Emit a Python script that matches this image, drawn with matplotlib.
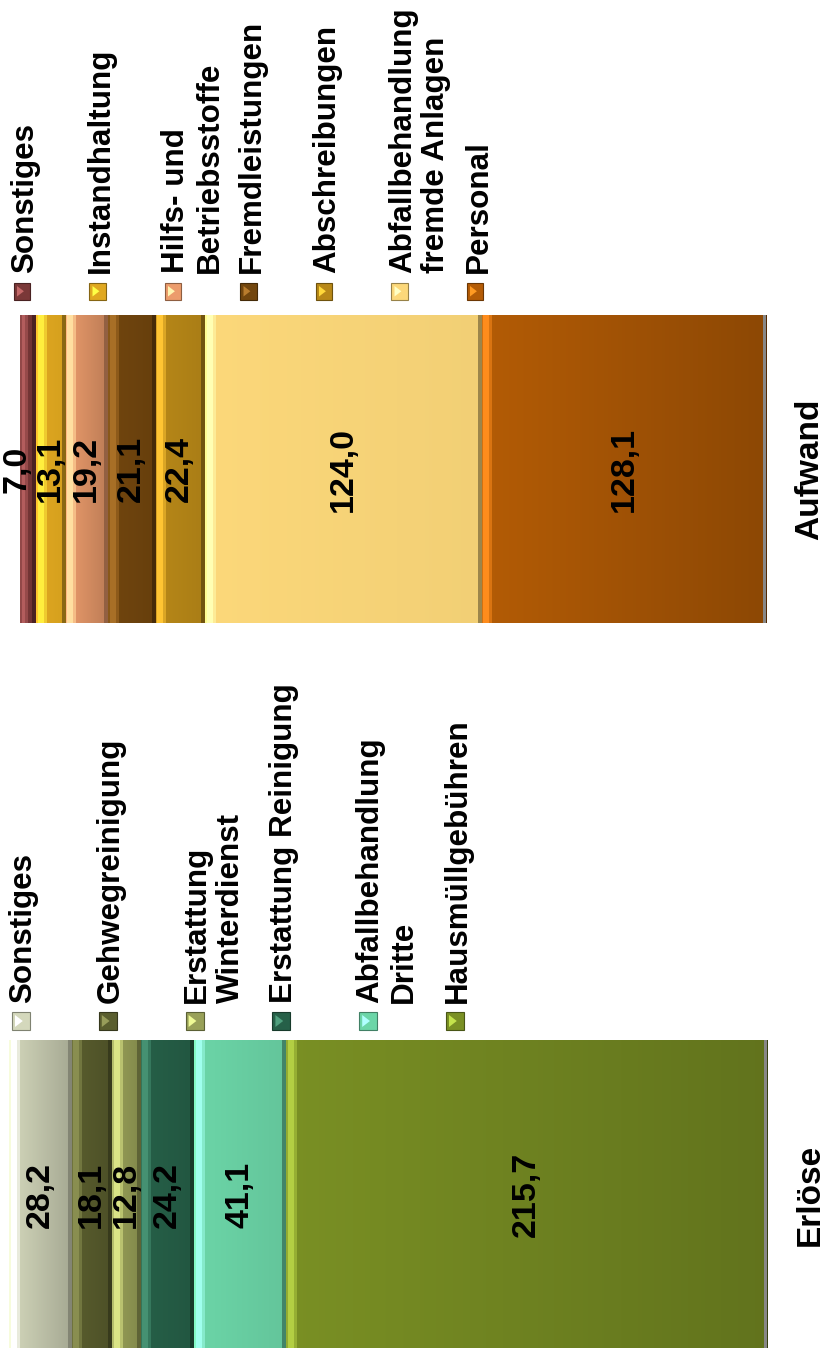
import numpy as np
import matplotlib
matplotlib.use("Agg")
import matplotlib.pyplot as plt
from matplotlib.colors import to_rgb
from matplotlib.patches import Rectangle, Polygon
from matplotlib import transforms

plt.rcParams['font.family'] = ['Liberation Sans', 'DejaVu Sans']

categories = ['Erlöse', 'Aufwand']

# stacking order: from the base of the bar (right) outwards (left)
erloese_labels = ['Hausmüllgebühren', 'Abfallbehandlung\nDritte', 'Erstattung Reinigung',
                  'Erstattung\nWinterdienst', 'Gehwegreinigung', 'Sonstiges']
erloese_values = [215.7, 41.1, 24.2, 12.8, 18.1, 28.2]
erloese_colors = ['#7a9024', '#6cd6a8', '#266048', '#98a058', '#5a5e2e', '#d4d8bc']
erloese_fade = [0.2, 0.08, 0.1, 0.15, 0.15, 0.22]

aufwand_labels = ['Personal', 'Abfallbehandlung\nfremde Anlagen', 'Abschreibungen',
                  'Fremdleistungen', 'Hilfs- und\nBetriebsstoffe', 'Instandhaltung', 'Sonstiges']
aufwand_values = [128.1, 124.0, 22.4, 21.1, 19.2, 13.1, 7.0]
aufwand_colors = ['#b45c06', '#fcd87a', '#b88818', '#72460e', '#ec9c6c', '#e0a820', '#7a3838']
aufwand_fade = [0.22, 0.04, 0.08, 0.1, 0.2, 0.05, 0.1]

W, H = 828, 1349
PX_PER_UNIT = 2.23     # pixels per value unit
BASE_PX = 767          # pixel column of value 0
BAR_CENTER_PX = [1194.5, 469]
BAR_H = 0.424

fig = plt.figure(figsize=(W / 100, H / 100), dpi=100)
ax = fig.add_axes([0, 0, 1, 1])
ax.axis('off')


def shade(color, n, fade, is_base):
    # column colours across one segment, left (outer end) to right (base side)
    base = np.array(to_rgb(color))
    hi = np.clip(base * 1.3 + 0.08, 0, 1)
    hw = min(8.0, 2 + n * 0.2)
    cols = np.empty((n, 3))
    for i in range(n):
        di = i + 0.5
        c = base * (1.0 - fade * di / n)
        if di < 2:
            c = np.clip(base * 1.12 + 0.04, 0, 1)
        elif di < hw:
            c = hi
        elif di < hw + 3:
            c = (hi + base) / 2
        if di > n - 4:
            c = base * 0.62
        if is_base and di > n - 4:
            c = np.array([0.53, 0.53, 0.53])
        if is_base and di > n - 1:
            c = base * 0.45
        cols[i] = np.clip(c, 0, 1)
    return cols


def draw_bar(ypos, values, colors, fades):
    cum = 0.0
    for k, (v, col, fd) in enumerate(zip(values, colors, fades)):
        ax.barh(ypos, v, left=cum, height=BAR_H, color=col, linewidth=0)
        n = max(int(round(v * PX_PER_UNIT)), 2)
        img = shade(col, n, fd, k == 0)[np.newaxis, :, :]
        ax.imshow(img, extent=(cum + v, cum, ypos - BAR_H / 2, ypos + BAR_H / 2),
                  aspect='auto', interpolation='nearest', zorder=2)
        txt = f"{v:.1f}".replace('.', ',')
        tr = ax.transData
        if v < 10:
            tr = transforms.offset_copy(ax.transData, fig=fig, x=-11, y=0, units='dots')
        ax.text(cum + v / 2, ypos, txt, rotation=90, ha='center', va='center',
                fontsize=24.5, fontweight='bold', color='black', zorder=3, transform=tr)
        cum += v


ypos = [(BAR_CENTER_PX[0] - p) / (BAR_CENTER_PX[0] - BAR_CENTER_PX[1]) for p in BAR_CENTER_PX]
draw_bar(ypos[0], erloese_values, erloese_colors, erloese_fade)
draw_bar(ypos[1], aufwand_values, aufwand_colors, aufwand_fade)

unit_px = BAR_CENTER_PX[0] - BAR_CENTER_PX[1]
ax.set_xlim(BASE_PX / PX_PER_UNIT, (BASE_PX - W) / PX_PER_UNIT)
ax.set_ylim((BAR_CENTER_PX[0] - H) / unit_px, BAR_CENTER_PX[0] / unit_px)

# category names next to the base of each bar
blend = transforms.blended_transform_factory(fig.transFigure, ax.transData)
for name, yp in zip(categories, ypos):
    ax.text(810 / W, yp, name, rotation=90, ha='center', va='center',
            fontsize=24, fontweight='bold', transform=blend)


def fx(x):
    return x / W


def fy(y):
    return 1 - y / H


def draw_legend(labels, colors, x0, step, sq_top, sq, text_y):
    for i, (lab, col) in enumerate(zip(labels[::-1], colors[::-1])):
        x = x0 + i * step
        base = np.array(to_rgb(col))
        fig.patches.append(Rectangle((fx(x), fy(sq_top + sq)), sq / W, sq / H,
                                     facecolor=base, edgecolor=base * 0.6, linewidth=0.8,
                                     transform=fig.transFigure, figure=fig))
        tri = [(fx(x + 3), fy(sq_top + 3)), (fx(x + 3), fy(sq_top + sq - 3)),
               (fx(x + sq * 0.6), fy(sq_top + sq / 2))]
        fig.patches.append(Polygon(tri, closed=True, facecolor=np.clip(base * 1.4 + 0.1, 0, 1),
                                   edgecolor='none', transform=fig.transFigure, figure=fig))
        fig.text(fx(x - 3.5), fy(text_y), lab, rotation=90, rotation_mode='anchor',
                 ha='left', va='top', fontsize=22.6, fontweight='bold',
                 linespacing=1.15)


draw_legend(erloese_labels, erloese_colors, 12, 86.8, 1012, 18, 1003)
draw_legend(aufwand_labels, aufwand_colors, 14, 75.5, 283, 16.5, 273)

fig.savefig('out.png', dpi=100, facecolor='white')
